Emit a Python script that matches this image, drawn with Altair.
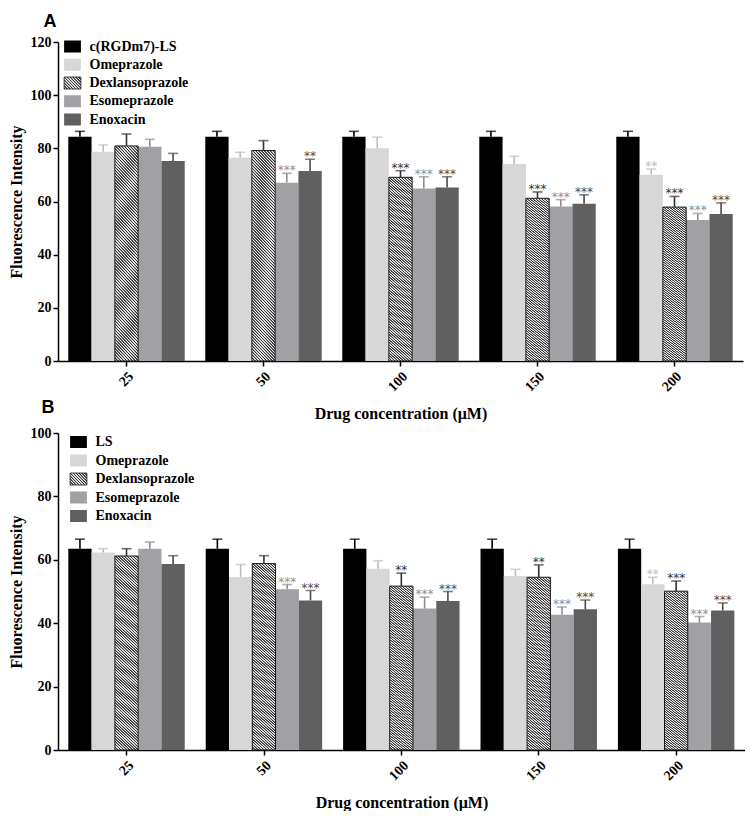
import altair as alt
import pandas as pd

groups = ["25", "50", "100", "150", "200"]
series_a = ["c(RGDm7)-LS", "Omeprazole", "Dexlansoprazole", "Esomeprazole", "Enoxacin"]
series_b = ["LS", "Omeprazole", "Dexlansoprazole", "Esomeprazole", "Enoxacin"]

# Panel A means and SD (per series, across groups)
a_ls = [84.4, 84.4, 84.4, 84.4, 84.4]
a_ls_sd = [2.0, 2.0, 2.0, 2.0, 2.0]
a_ome = [78.7, 76.5, 80.0, 74.1, 70.1]
a_ome_sd = [2.6, 2.0, 4.2, 2.9, 2.1]
a_dex = [80.9, 79.2, 69.1, 61.2, 57.9]
a_dex_sd = [4.5, 3.7, 2.5, 2.4, 4.0]
a_eso = [80.6, 67.1, 64.9, 58.1, 53.0]
a_eso_sd = [2.8, 3.5, 4.4, 2.6, 2.5]
a_eno = [75.2, 71.5, 65.3, 59.2, 55.3]
a_eno_sd = [2.9, 4.4, 4.0, 3.3, 4.2]
a_stars_ls = ["", "", "", "", ""]
a_stars_ome = ["", "", "", "", "**"]
a_stars_dex = ["", "", "***", "***", "***"]
a_stars_eso = ["", "***", "***", "***", "***"]
a_stars_eno = ["", "**", "***", "***", "***"]

# Panel B
b_ls = [63.5, 63.5, 63.5, 63.5, 63.5]
b_ls_sd = [3.0, 3.0, 3.0, 3.0, 3.0]
b_ome = [62.3, 54.6, 57.2, 54.9, 52.3]
b_ome_sd = [1.2, 3.9, 2.5, 2.1, 2.2]
b_dex = [61.2, 58.8, 51.7, 54.5, 50.1]
b_dex_sd = [2.3, 2.5, 4.1, 3.9, 3.2]
b_eso = [63.5, 50.7, 44.6, 42.7, 40.2]
b_eso_sd = [2.1, 1.5, 3.6, 2.4, 1.9]
b_eno = [58.7, 47.2, 47.0, 44.4, 44.0]
b_eno_sd = [2.6, 3.1, 3.0, 2.9, 2.4]
b_stars_ls = ["", "", "", "", ""]
b_stars_ome = ["", "", "", "", "**"]
b_stars_dex = ["", "", "**", "**", "***"]
b_stars_eso = ["", "***", "***", "***", "***"]
b_stars_eno = ["", "***", "***", "***", "***"]

slots = [0, 1, 2, 3, 4]
DEX_SLOT = 2


def build(series, means, sds, stars):
    rows = []
    for k, s, m, e, st in zip(slots, series, means, sds, stars):
        for g, v, d, t in zip(groups, m, e, st):
            rows.append({"group": g, "k": k, "series": s, "value": v, "sd": d, "star": t})
    return pd.DataFrame(rows)


df_a = build(series_a, [a_ls, a_ome, a_dex, a_eso, a_eno],
             [a_ls_sd, a_ome_sd, a_dex_sd, a_eso_sd, a_eno_sd],
             [a_stars_ls, a_stars_ome, a_stars_dex, a_stars_eso, a_stars_eno])
df_b = build(series_b, [b_ls, b_ome, b_dex, b_eso, b_eno],
             [b_ls_sd, b_ome_sd, b_dex_sd, b_eso_sd, b_eno_sd],
             [b_stars_ls, b_stars_ome, b_stars_dex, b_stars_eso, b_stars_eno])


def stripes(n, dark="#333333", light="#f4f4f4"):
    # soft-edged stripes to avoid aliasing
    stops = []
    for k in range(n):
        p = 1.0 / n
        a = k * p
        stops += [{"offset": a, "color": dark},
                  {"offset": a + 0.3 * p, "color": dark},
                  {"offset": a + 0.5 * p, "color": light},
                  {"offset": a + 0.8 * p, "color": light},
                  {"offset": a + p, "color": dark}]
    return stops


HATCH_BAR = {"gradient": "linear", "x1": 0, "y1": 1, "x2": 0.1266, "y2": -0.1005,
             "stops": stripes(78)}
HATCH_SWATCH = {"gradient": "linear", "x1": 0, "y1": 1, "x2": 1.139, "y2": 0.196,
                "stops": stripes(10)}

SWATCH = "M-1.4,-1L1.4,-1L1.4,1L-1.4,1Z"
SERIF = "Liberation Serif"
FILLS = ["#000000", "#d7d7d7", "#ffffff", "#a1a1a5", "#606060"]
ERRC = ["#000000", "#bdbdbd", "#333333", "#8e8e92", "#4a4a4a"]


def panel(df, series, ymax, width, height, letter, letter_xy, legend_range, legend_x):
    fill_scale = alt.Scale(domain=slots, range=FILLS)
    err_scale = alt.Scale(domain=slots, range=ERRC)
    x = alt.X("group:N", scale=alt.Scale(domain=groups, paddingInner=0.15, paddingOuter=0.075),
              axis=alt.Axis(title="Drug concentration (μM)", labelAngle=-45,
                            titlePadding=12, labelPadding=3))
    xo = alt.XOffset("k:O", scale=alt.Scale(domain=slots, paddingInner=0, paddingOuter=0))
    yscale = alt.Scale(domain=[0, ymax], nice=False)
    y = alt.Y("value:Q", scale=yscale,
              axis=alt.Axis(values=list(range(0, ymax + 1, 20)), title="Fluorescence Intensity",
                            titlePadding=6))
    base = alt.Chart(df).encode(x=x, xOffset=xo)
    bars = base.mark_bar(strokeWidth=0).encode(
        y=y, fill=alt.Fill("k:O", scale=fill_scale, legend=None))
    hatch = base.transform_filter(alt.datum.k == DEX_SLOT).mark_bar(
        fill=HATCH_BAR, stroke="#1a1a1a", strokeWidth=1).encode(y=alt.Y("value:Q", scale=yscale))
    errs = base.transform_calculate(top="datum.value + datum.sd")
    rules = errs.mark_rule(strokeWidth=1.6).encode(
        y=alt.Y("value:Q", scale=yscale), y2="top:Q",
        color=alt.Color("k:O", scale=err_scale, legend=None))
    caps = errs.mark_tick(thickness=1.6, size=10).encode(
        y=alt.Y("top:Q", scale=yscale),
        color=alt.Color("k:O", scale=err_scale, legend=None))
    stars = errs.mark_text(font="DejaVu Sans", fontSize=12, baseline="alphabetic", dy=1).encode(
        y=alt.Y("top:Q", scale=yscale), text="star:N",
        color=alt.Color("k:O", scale=err_scale, legend=None))
    inner = alt.layer(bars, hatch, rules, caps, stars)

    leg_df = pd.DataFrame({"k": slots, "series": series})
    ly = alt.Y("k:O", scale=alt.Scale(type="point", domain=slots, range=legend_range,
                                      padding=0), axis=None)
    leg = alt.Chart(leg_df)
    leg_sq = leg.mark_point(shape=SWATCH, filled=True, size=144, opacity=1, strokeWidth=0).encode(
        x=alt.value(legend_x), y=ly, fill=alt.Fill("k:O", scale=fill_scale, legend=None))
    leg_hatch = leg.transform_filter(alt.datum.k == DEX_SLOT).mark_point(
        shape=SWATCH, filled=True, size=144, opacity=1, fill=HATCH_SWATCH,
        stroke="#1a1a1a", strokeWidth=0.8).encode(x=alt.value(legend_x), y=ly)
    leg_text = leg.mark_text(align="left", baseline="middle", font=SERIF, fontWeight="bold",
                             fontSize=14, color="black").encode(
        x=alt.value(legend_x + 17), y=ly, text="series:N")
    lab = alt.Chart(pd.DataFrame({"t": [letter]})).mark_text(
        font="Liberation Sans", fontWeight="bold", fontSize=18, align="center",
        baseline="middle", color="black").encode(
        text="t:N", x=alt.value(letter_xy[0]), y=alt.value(letter_xy[1]))

    return alt.layer(inner, leg_sq, leg_hatch, leg_text, lab).resolve_scale(
        y="independent").properties(width=width, height=height)


pa = panel(df_a, series_a, 120, 685, 319, "A", (-8, -20), [4.5, 77.5], 14.5)
pb = panel(df_b, series_b, 100, 687, 317, "B", (-10, -25), [9, 83], 20.5)

chart = alt.vconcat(pa, pb, spacing=-23).properties(
    padding={"top": 5, "left": 0, "right": 0, "bottom": 0}
).configure_view(
    stroke=None
).configure_axis(
    grid=False, domainColor="black", domainWidth=1.5, tickColor="black", tickWidth=1.5,
    tickSize=5, labelFont=SERIF, labelFontWeight="bold", labelFontSize=14, labelColor="black",
    titleFont=SERIF, titleFontWeight="bold", titleFontSize=16, titleColor="black"
)

chart.save("out.html", embed_options={"renderer": "svg", "actions": False})
